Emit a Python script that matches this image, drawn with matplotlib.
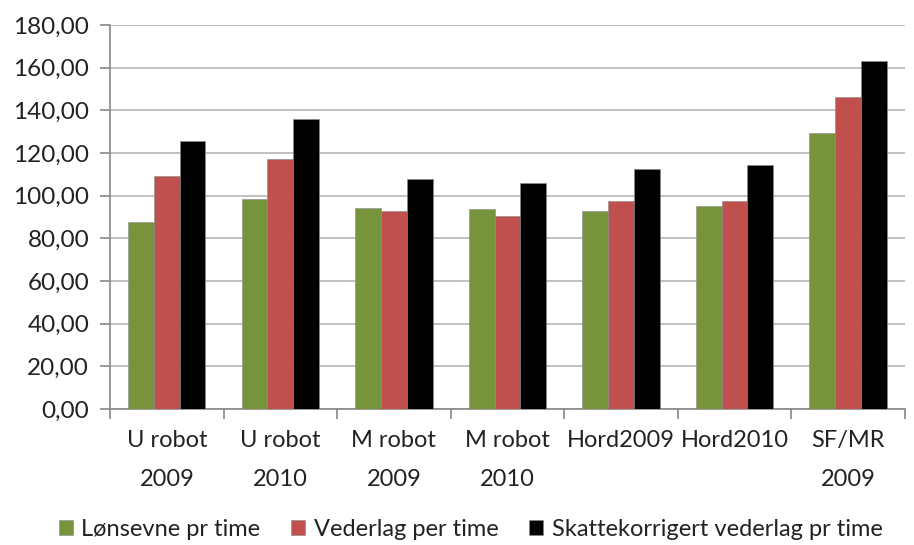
import numpy as np
import matplotlib.pyplot as plt
from matplotlib.ticker import FuncFormatter

# categories and series
categories = ["U robot\n2009", "U robot\n2010", "M robot\n2009", "M robot\n2010",
              "Hord2009", "Hord2010", "SF/MR\n2009"]
lonsevne = [87.8, 98.3, 94.4, 93.8, 92.7, 95.0, 129.2]
vederlag = [109.4, 117.3, 92.7, 90.3, 97.5, 97.5, 146.3]
skattekorr = [125.8, 136.0, 107.7, 105.8, 112.5, 114.4, 163.1]

series_names = ["Lønsevne pr time", "Vederlag per time",
                "Skattekorrigert vederlag pr time"]
colors = ["#77933C", "#C0504D", "#000000"]

plt.rcParams['font.family'] = ['Lato', 'DejaVu Sans']

fig = plt.figure(figsize=(9.14, 5.45), dpi=100)
ax = fig.add_axes([0.1204, 0.2495, 0.8696, 0.7045])

x = np.arange(len(categories))
w = 0.227
for i, (vals, name, c) in enumerate(zip([lonsevne, vederlag, skattekorr], series_names, colors)):
    ax.bar(x + (i - 1) * w, vals, w, color=c, label=name, zorder=3,
           edgecolor="#8a8a8a", linewidth=0.4)

ax.set_xlim(-0.5, len(categories) - 0.5)
ax.set_ylim(0, 180)
ax.set_yticks(np.arange(0, 181, 20))
ax.yaxis.set_major_formatter(FuncFormatter(lambda v, p: f"{v:.2f}".replace(".", ",")))
ax.grid(axis="y", color="#bcbcbc", linewidth=1.3, zorder=0)

# category ticks sit between groups
ax.set_xticks(np.arange(-0.5, len(categories) + 0.5, 1))
ax.set_xticklabels([])
ax.set_xticks(x, minor=True)
ax.set_xticklabels(categories, minor=True, fontsize=17, color="#222222", linespacing=2.05)
ax.tick_params(axis="x", which="minor", length=0, pad=15)
ax.tick_params(axis="x", which="major", length=7, color="#888888", width=1.2)
ax.tick_params(axis="y", length=7, color="#888888", width=1.2, labelsize=17.5,
               labelcolor="#222222", pad=8)

for s in ["top", "right"]:
    ax.spines[s].set_visible(False)
for s in ["left", "bottom"]:
    ax.spines[s].set_color("#888888")
    ax.spines[s].set_linewidth(1.2)

fig.legend(loc="lower center", bbox_to_anchor=(0.515, -0.03), ncol=3, frameon=False,
           fontsize=17, handlelength=0.6, handleheight=0.6, handletextpad=0.35,
           columnspacing=1.3, labelcolor="#222222")

fig.savefig("out.png", dpi=100)
